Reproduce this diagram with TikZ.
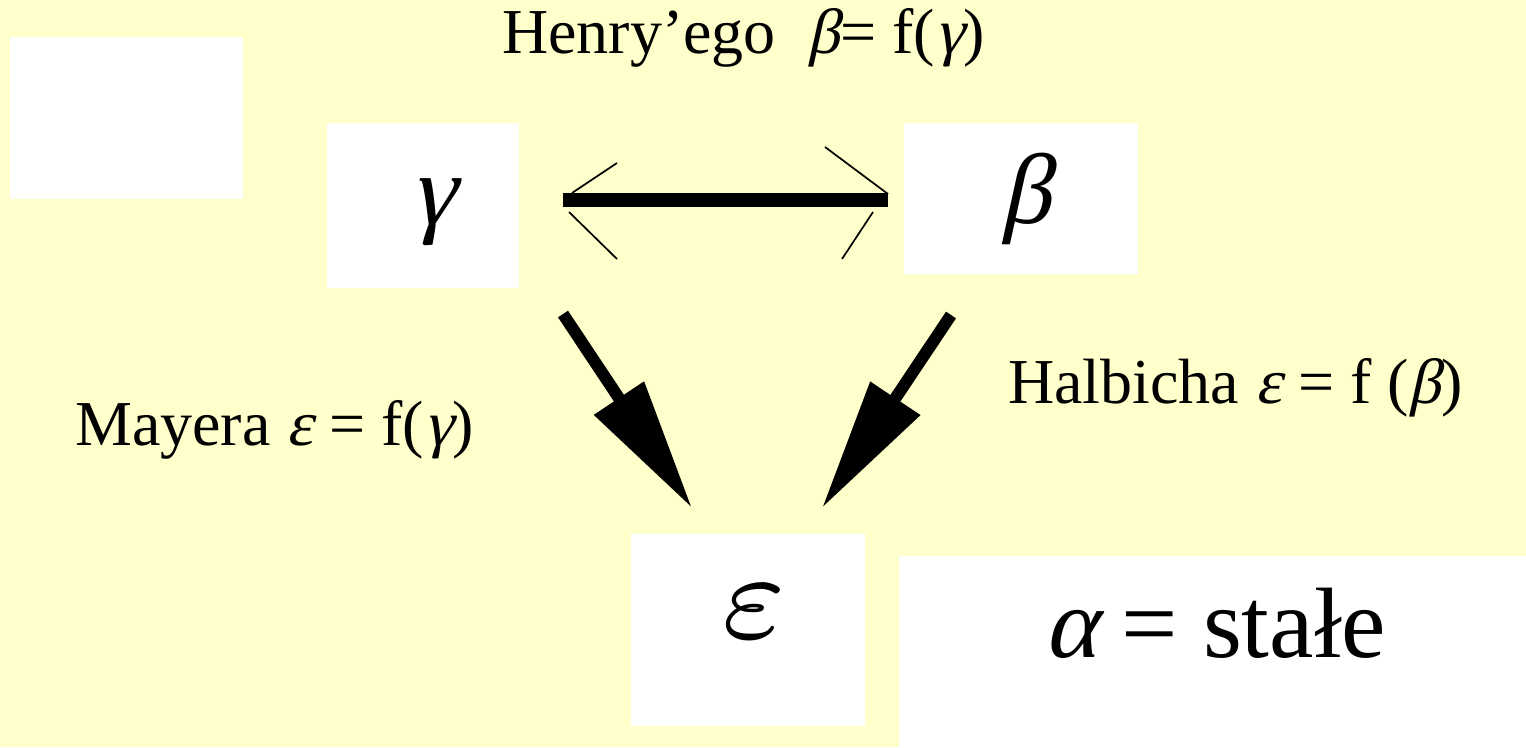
\RequirePackage{fix-cm}
\documentclass[tikz,border=0pt]{standalone}
\usepackage{fontspec}
\setmainfont{Liberation Serif}
\newfontfamily\grk[FakeSlant=0.22]{Liberation Serif}
\usepackage{xcolor}
\usetikzlibrary{positioning,arrows.meta,calc}
\definecolor{pale}{HTML}{FFFFCC}
\newcommand{\gr}[1]{{\grk #1}}
\font\epsfont=cmmi7 at 124pt

\begin{document}
\begin{tikzpicture}[
  x=1pt, y=-1pt,
  box/.style={fill=white,inner sep=0pt},
  sym/.style={inner sep=0pt,font=\fontsize{100}{100}\selectfont},
  lbl/.style={anchor=base west,inner sep=0pt,font=\fontsize{64}{64}\selectfont},
  fat/.style={line width=12pt,-{Triangle[length=132pt,width=57pt]}},
  barb/.style={line width=1.7pt}
]
\useasboundingbox (0,0) rectangle (1526,747);
\fill[pale] (0,0) rectangle (1526,747);

% white boxes
\node[box,minimum width=233pt,minimum height=162pt] (blank) at (126.5,117.5) {};
\node[box,minimum width=192pt,minimum height=165pt] (gbox) at (423,205.5) {};
\node[box,minimum width=234pt,minimum height=151pt] (bbox) at (1021,198.5) {};
\node[box,minimum width=234pt,minimum height=192pt] (ebox) at (748,630) {};
\node[box,minimum width=627pt,minimum height=191pt] (abox) at (1212.5,651.5) {};

\node[sym] (gam) at (433,212) {\gr{γ}};
\node[sym] (bet) at (1026,199) {\gr{β}};
\node[sym,font=\epsfont] (eps) at (754,612) {\char"22};
\node[sym,anchor=base west] (alf) at (1044,657) {\gr{α} = stałe};

% labels
\node[lbl] (henry) at (502,53) {Henry’ego\ \ \gr{β}= f(\gr{γ})};
\node[lbl] (mayer) at (75,445) {Mayera \gr{ε} = f(\gr{γ})};
\node[lbl] (halb) at (1008,403) {Halbicha \gr{ε} = f (\gr{β})};

% gamma <-> beta
\coordinate (hL) at (563,200);
\coordinate (hR) at (888,200);
\draw[line width=14pt] (hL) -- (hR);
\draw[barb] (hL) ++(9,-7) -- ++(45,-30);
\draw[barb] (hL) ++(6,12) -- ++(48,47);
\draw[barb] (hR) ++(0,-6) -- ++(-63,-47);
\draw[barb] (hR) ++(-15,12) -- ++(-31,47);

% thick arrows down to epsilon
\coordinate (g1) at (563,314);
\coordinate (e1) at (692,508);
\coordinate (b1) at (951,315);
\coordinate (e2) at (822,508);
\draw[fat] (g1) -- (e1);
\draw[fat] (b1) -- (e2);
\end{tikzpicture}
\end{document}
